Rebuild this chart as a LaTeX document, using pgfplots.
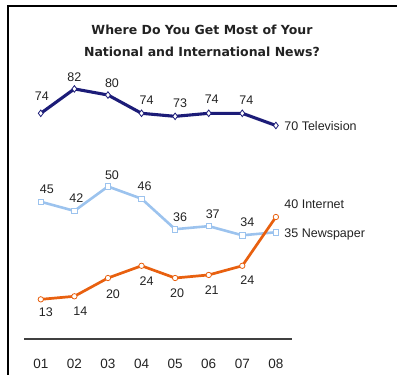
\documentclass[border=0pt]{standalone}
\usepackage{pgfplots}
\pgfplotsset{compat=1.18}
\usepackage{fontspec}
\setmainfont{Liberation Sans}
\newfontfamily\titlefont{DejaVu Sans}
\definecolor{tv}{HTML}{1C1C78}
\definecolor{news}{HTML}{9CC3EE}
\definecolor{inet}{HTML}{E8600F}
\definecolor{txt}{HTML}{222222}
\tikzset{lbl/.style={font=\fontsize{12.5}{14}\selectfont, text=txt}}
\begin{document}
\begin{tikzpicture}[x=1pt,y=1pt]
\path[use as bounding box] (0,0) rectangle (400,375);
\draw[line width=1.5pt,black] (8,0) -- (8,369) -- (397,369);
\node[font=\titlefont\bfseries\fontsize{12.5}{14}\selectfont, text=txt] at (202,345) {Where Do You Get Most of Your};
\node[font=\titlefont\bfseries\fontsize{12.5}{14}\selectfont, text=txt] at (202,323) {National and International News?};
\begin{axis}[
  at={(24pt,36pt)}, anchor=south west,
  scale only axis, width=268pt, height=274.5pt,
  xmin=0.5, xmax=8.48, ymin=0, ymax=90,
  clip=false,
  axis x line*=bottom, axis y line=none,
  x axis line style={-, draw=black!75, line width=1.3pt},
  xtick={1,...,8}, xticklabels={01,02,03,04,05,06,07,08},
  major tick length=0pt,
  xticklabel style={anchor=center, yshift=-25pt, font=\fontsize{13.5}{15}\selectfont, text=txt},
  /pgf/number format/assume math mode=true,
]
\addplot[tv, line width=3.1pt, mark=diamond*, mark size=3.3pt, mark options={fill=white, draw=tv, line width=0.8pt}]
  coordinates {(1,74) (2,82) (3,80) (4,74) (5,73) (6,74) (7,74) (8,70)};
\addplot[news, line width=2.6pt, mark=square*, mark size=2.7pt, mark options={fill=white, draw=news, line width=0.8pt}]
  coordinates {(1,45) (2,42) (3,50) (4,46) (5,36) (6,37) (7,34) (8,35)};
\addplot[inet, line width=2.7pt, mark=*, mark size=2.7pt, mark options={fill=white, draw=inet, line width=0.8pt}]
  coordinates {(1,13) (2,14) (3,20) (4,24) (5,20) (6,21) (7,24) (8,40)};
% TV labels
\node[lbl, xshift=1pt, yshift=17pt] at (axis cs:1,74) {74};
\node[lbl, xshift=0pt, yshift=12pt] at (axis cs:2,82) {82};
\node[lbl, xshift=4pt, yshift=12pt] at (axis cs:3,80) {80};
\node[lbl, xshift=5pt, yshift=13pt] at (axis cs:4,74) {74};
\node[lbl, xshift=5pt, yshift=13pt] at (axis cs:5,73) {73};
\node[lbl, xshift=3pt, yshift=14pt] at (axis cs:6,74) {74};
\node[lbl, xshift=4pt, yshift=13pt] at (axis cs:7,74) {74};
\node[lbl, anchor=west, xshift=5pt, yshift=-1pt] at (axis cs:8,70) {70 Television};
% Newspaper labels
\node[lbl, xshift=6pt, yshift=12pt] at (axis cs:1,45) {45};
\node[lbl, xshift=2pt, yshift=13pt] at (axis cs:2,42) {42};
\node[lbl, xshift=4pt, yshift=11pt] at (axis cs:3,50) {50};
\node[lbl, xshift=3pt, yshift=13pt] at (axis cs:4,46) {46};
\node[lbl, xshift=5pt, yshift=12pt] at (axis cs:5,36) {36};
\node[lbl, xshift=4pt, yshift=12pt] at (axis cs:6,37) {37};
\node[lbl, xshift=5pt, yshift=13pt] at (axis cs:7,34) {34};
\node[lbl, anchor=west, xshift=5pt, yshift=-2pt] at (axis cs:8,35) {35 Newspaper};
% Internet labels
\node[lbl, xshift=5pt, yshift=-13pt] at (axis cs:1,13) {13};
\node[lbl, xshift=6pt, yshift=-15pt] at (axis cs:2,14) {14};
\node[lbl, xshift=5pt, yshift=-16pt] at (axis cs:3,20) {20};
\node[lbl, xshift=5pt, yshift=-15pt] at (axis cs:4,24) {24};
\node[lbl, xshift=2pt, yshift=-15pt] at (axis cs:5,20) {20};
\node[lbl, xshift=3pt, yshift=-15pt] at (axis cs:6,21) {21};
\node[lbl, xshift=5pt, yshift=-14pt] at (axis cs:7,24) {24};
\node[lbl, anchor=west, xshift=5pt, yshift=13pt] at (axis cs:8,40) {40 Internet};
\end{axis}
\end{tikzpicture}
\end{document}
